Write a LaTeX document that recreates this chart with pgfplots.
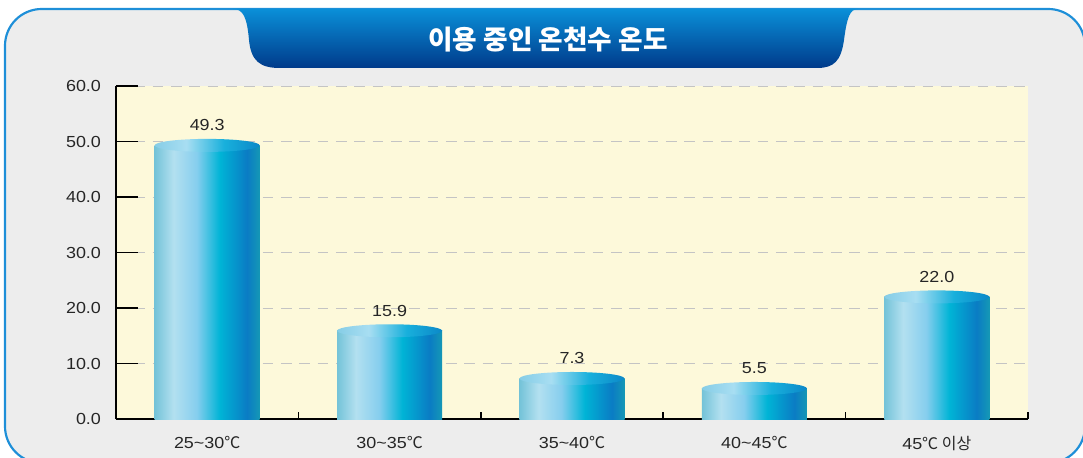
\documentclass[border=0pt]{standalone}
\usepackage{pgfplots}
\pgfplotsset{compat=1.18}
\usepackage{fontspec}
\setmainfont{Liberation Sans}[FakeStretch=1.12]
\newfontfamily\kr{Noto Sans CJK KR}
\usetikzlibrary{shapes.geometric}
\definecolor{framebg}{HTML}{EDEDED}
\definecolor{border}{HTML}{1E8FD8}
\definecolor{plotbg}{HTML}{FDF9DA}
\definecolor{gridc}{HTML}{C4C4C4}
\definecolor{tabtop}{HTML}{0A8FD8}
\definecolor{tabbot}{HTML}{003A8A}
\definecolor{c1}{HTML}{74C3D8}
\definecolor{c2}{HTML}{B3E0F0}
\definecolor{c3}{HTML}{86CEEE}
\definecolor{c4}{HTML}{00B4D6}
\definecolor{c5}{HTML}{0A7CC4}
\definecolor{c6}{HTML}{1598B5}
\definecolor{t1}{HTML}{86CDE6}
\definecolor{t2}{HTML}{A8DEF2}
\definecolor{t3}{HTML}{18B0DC}
\definecolor{t4}{HTML}{0C88C8}
\pgfdeclarehorizontalshading{cyl}{100bp}{color(0bp)=(c1); color(25bp)=(c1); color(34bp)=(c2); color(45bp)=(c3); color(56bp)=(c4); color(69bp)=(c5); color(75bp)=(c6); color(100bp)=(c6)}
\pgfdeclarehorizontalshading{cyltop}{100bp}{color(0bp)=(t1); color(25bp)=(t1); color(40bp)=(t2); color(58bp)=(t3); color(75bp)=(t4); color(100bp)=(t4)}
\begin{document}
\begin{tikzpicture}[x=0.6pt,y=0.6pt]
\useasboundingbox (0,0) rectangle (1083,457);
\begin{scope}
\clip (0,0) rectangle (1083,457);
\draw[line width=1.3pt, draw=border, fill=framebg, rounded corners=22pt] (5,-6) rectangle (1085,448);
\shade[top color=tabtop, bottom color=tabbot] (233,448) .. controls (243,448) and (247,440) .. (249,417) .. controls (251,396) and (260,389) .. (280,389) -- (817,389) .. controls (834,389) and (841,396) .. (844,417) .. controls (847,440) and (850,448) .. (858,448) -- cycle;
\end{scope}
\node[text=white, font=\kr\bfseries\fontsize{16}{18}\selectfont] at (548,417) {이용 중인 온천수 온도};
\begin{axis}[
  at={(69.6pt,22.8pt)}, anchor=south west, scale only axis,
  width=547.2pt, height=199.8pt,
  xmin=-0.5, xmax=4.5, ymin=0, ymax=60,
  axis lines*=left,
  axis line style={line width=1.1pt, black},
  /pgf/number format/assume math mode=true,
  ytick={0,10,...,60},
  yticklabel style={/pgf/number format/fixed, /pgf/number format/fixed zerofill, /pgf/number format/precision=1, xshift=-5.5pt},
  xtick={0,1,2,3,4},
  xticklabels={25\textasciitilde30{\kr ℃}, 30\textasciitilde35{\kr ℃}, 35\textasciitilde40{\kr ℃}, 40\textasciitilde45{\kr ℃}, 45{\kr ℃ 이상}},
  xticklabel style={yshift=-7pt},
  minor xtick={0.5,1.5,2.5,3.5,4.5},
  major x tick style={draw=none},
  minor tick length=4.2pt, major tick length=13.2pt,
  tick style={black, line width=1pt},
  ymajorgrids,
  major grid style={draw=gridc, dash pattern=on 6.5pt off 4.5pt, line width=0.6pt},
  axis background/.style={fill=plotbg},
  tick label style={font=\fontsize{9.6}{11}\selectfont, text=black!85},
  clip=false,
  cyl/.style={ybar, bar width=0.576, draw=none, shading=cyl},
]
\addplot[cyl] coordinates {(0,49.3)};
\addplot[cyl] coordinates {(1,15.9)};
\addplot[cyl] coordinates {(2,7.3)};
\addplot[cyl] coordinates {(3,5.5)};
\addplot[cyl] coordinates {(4,22.0)};
\addplot[draw=none, mark=none, nodes near coords={},
  every node near coord/.style={ellipse, minimum width=63pt, minimum height=7.8pt, inner sep=0pt, shading=cyltop, anchor=center}]
  coordinates {(0,49.3) (1,15.9) (2,7.3) (3,5.5) (4,22.0)};
\addplot[draw=none, mark=none, nodes near coords,
  /pgf/number format/fixed, /pgf/number format/fixed zerofill, /pgf/number format/precision=1,
  every node near coord/.style={anchor=center, yshift=12pt, font=\fontsize{9.6}{11}\selectfont, text=black!85}]
  coordinates {(0,49.3) (1,15.9) (2,7.3) (3,5.5) (4,22.0)};
\end{axis}
\end{tikzpicture}
\end{document}
